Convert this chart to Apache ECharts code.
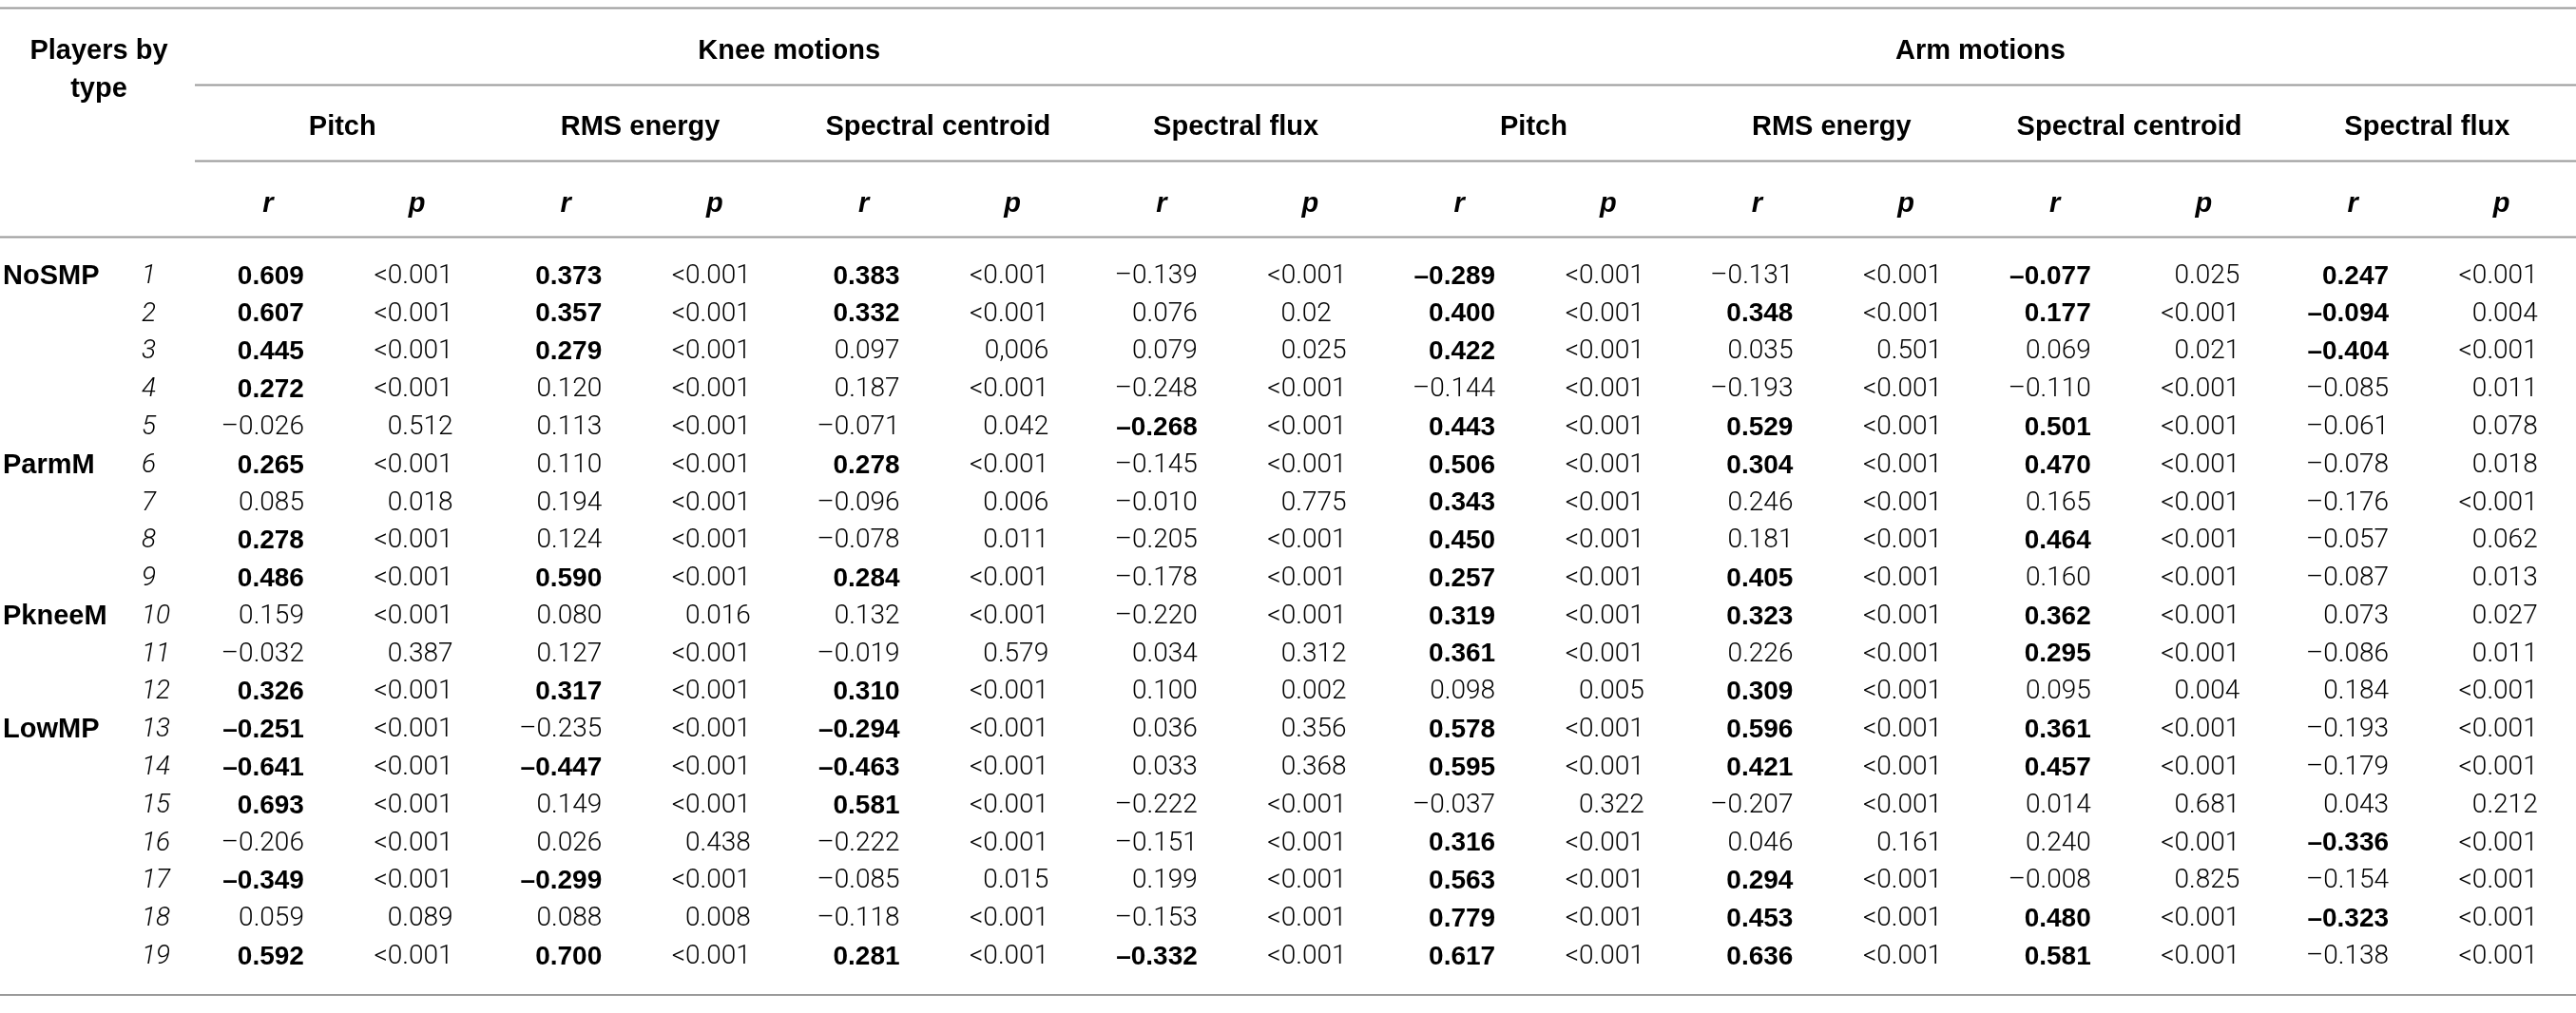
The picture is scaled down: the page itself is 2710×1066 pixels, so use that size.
<!DOCTYPE html>
<html>
<head>
<meta charset="utf-8">
<script src="https://cdn.jsdelivr.net/npm/echarts@6/dist/echarts.min.js"></script>
<style>
html,body{margin:0;padding:0;background:#fff;}
#chart{width:2710px;height:1066px;}
</style>
</head>
<body>
<div id="chart"></div>
<script>
// ---------- DATA ----------
const rowNums = ['1','2','3','4','5','6','7','8','9','10','11','12','13','14','15','16','17','18','19'];
const groupLabels = ['NoSMP','','','','','ParmM','','','','PkneeM','','','LowMP','','','','','',''];
const motions = ['Knee motions', 'Arm motions'];
const features = ['Pitch', 'RMS energy', 'Spectral centroid', 'Spectral flux'];
const statLabels = ['r', 'p'];
const headerCorner = 'Players by\ntype';

const kneePitchR = [0.609,0.607,0.445,0.272,-0.026,0.265,0.085,0.278,0.486,0.159,-0.032,0.326,-0.251,-0.641,0.693,-0.206,-0.349,0.059,0.592];
const kneePitchB = [1,1,1,1,0,1,0,1,1,0,0,1,1,1,1,0,1,0,1];
const kneePitchP = ['<0.001','<0.001','<0.001','<0.001','0.512','<0.001','0.018','<0.001','<0.001','<0.001','0.387','<0.001','<0.001','<0.001','<0.001','<0.001','<0.001','0.089','<0.001'];

const kneeRmsR = [0.373,0.357,0.279,0.120,0.113,0.110,0.194,0.124,0.590,0.080,0.127,0.317,-0.235,-0.447,0.149,0.026,-0.299,0.088,0.700];
const kneeRmsB = [1,1,1,0,0,0,0,0,1,0,0,1,0,1,0,0,1,0,1];
const kneeRmsP = ['<0.001','<0.001','<0.001','<0.001','<0.001','<0.001','<0.001','<0.001','<0.001','0.016','<0.001','<0.001','<0.001','<0.001','<0.001','0.438','<0.001','0.008','<0.001'];

const kneeCentR = [0.383,0.332,0.097,0.187,-0.071,0.278,-0.096,-0.078,0.284,0.132,-0.019,0.310,-0.294,-0.463,0.581,-0.222,-0.085,-0.118,0.281];
const kneeCentB = [1,1,0,0,0,1,0,0,1,0,0,1,1,1,1,0,0,0,1];
const kneeCentP = ['<0.001','<0.001','0,006','<0.001','0.042','<0.001','0.006','0.011','<0.001','<0.001','0.579','<0.001','<0.001','<0.001','<0.001','<0.001','0.015','<0.001','<0.001'];

const kneeFluxR = [-0.139,0.076,0.079,-0.248,-0.268,-0.145,-0.010,-0.205,-0.178,-0.220,0.034,0.100,0.036,0.033,-0.222,-0.151,0.199,-0.153,-0.332];
const kneeFluxB = [0,0,0,0,1,0,0,0,0,0,0,0,0,0,0,0,0,0,1];
const kneeFluxP = ['<0.001','0.02','0.025','<0.001','<0.001','<0.001','0.775','<0.001','<0.001','<0.001','0.312','0.002','0.356','0.368','<0.001','<0.001','<0.001','<0.001','<0.001'];

const armPitchR = [-0.289,0.400,0.422,-0.144,0.443,0.506,0.343,0.450,0.257,0.319,0.361,0.098,0.578,0.595,-0.037,0.316,0.563,0.779,0.617];
const armPitchB = [1,1,1,0,1,1,1,1,1,1,1,0,1,1,0,1,1,1,1];
const armPitchP = ['<0.001','<0.001','<0.001','<0.001','<0.001','<0.001','<0.001','<0.001','<0.001','<0.001','<0.001','0.005','<0.001','<0.001','0.322','<0.001','<0.001','<0.001','<0.001'];

const armRmsR = [-0.131,0.348,0.035,-0.193,0.529,0.304,0.246,0.181,0.405,0.323,0.226,0.309,0.596,0.421,-0.207,0.046,0.294,0.453,0.636];
const armRmsB = [0,1,0,0,1,1,0,0,1,1,0,1,1,1,0,0,1,1,1];
const armRmsP = ['<0.001','<0.001','0.501','<0.001','<0.001','<0.001','<0.001','<0.001','<0.001','<0.001','<0.001','<0.001','<0.001','<0.001','<0.001','0.161','<0.001','<0.001','<0.001'];

const armCentR = [-0.077,0.177,0.069,-0.110,0.501,0.470,0.165,0.464,0.160,0.362,0.295,0.095,0.361,0.457,0.014,0.240,-0.008,0.480,0.581];
const armCentB = [1,1,0,0,1,1,0,1,0,1,1,0,1,1,0,0,0,1,1];
const armCentP = ['0.025','<0.001','0.021','<0.001','<0.001','<0.001','<0.001','<0.001','<0.001','<0.001','<0.001','0.004','<0.001','<0.001','0.681','<0.001','0.825','<0.001','<0.001'];

const armFluxR = [0.247,-0.094,-0.404,-0.085,-0.061,-0.078,-0.176,-0.057,-0.087,0.073,-0.086,0.184,-0.193,-0.179,0.043,-0.336,-0.154,-0.323,-0.138];
const armFluxB = [1,1,1,0,0,0,0,0,0,0,0,0,0,0,0,1,0,1,0];
const armFluxP = ['<0.001','0.004','<0.001','0.011','0.078','0.018','<0.001','0.062','0.013','0.027','0.011','<0.001','<0.001','<0.001','0.212','<0.001','<0.001','<0.001','<0.001'];

// ---------- BUILD ----------
const blocks = [
  [kneePitchR, kneePitchB, kneePitchP],
  [kneeRmsR, kneeRmsB, kneeRmsP],
  [kneeCentR, kneeCentB, kneeCentP],
  [kneeFluxR, kneeFluxB, kneeFluxP],
  [armPitchR, armPitchB, armPitchP],
  [armRmsR, armRmsB, armRmsP],
  [armCentR, armCentB, armCentP],
  [armFluxR, armFluxB, armFluxP]
];
const featureKeys = [];
const columnKeys = [];
motions.forEach(m => features.forEach(f => {
  featureKeys.push(m + '|' + f);
  statLabels.forEach(s => columnKeys.push(m + '|' + f + '|' + s));
}));

function fmtR(v) {
  return (v < 0 ? '\u2013' : '') + Math.abs(v).toFixed(3);
}

const cells = [];
blocks.forEach((blk, b) => {
  const [rs, bs, ps] = blk;
  rowNums.forEach((rn, i) => {
    cells.push({ col: 2 * b, row: i, text: fmtR(rs[i]), bold: !!bs[i], isP: false });
    cells.push({ col: 2 * b + 1, row: i, text: ps[i], bold: false, isP: true });
  });
});

// ---------- STYLE / LAYOUT ----------
const FS = 28;
const HFS = 29;
const LIGHT = 'Roboto';
const BOLDF = 'Liberation Sans';
const INK = '#000';
const RULE = '#9a9a9a';
const G = { left: 202.6, top: 271, width: 2510, height: 755.8 };
const RIGHT_PAD = 38;
const DIGIT_W = 15.6;

const chart = echarts.init(document.getElementById('chart'), null, { renderer: 'canvas' });

const hdrLabel = {
  color: INK, fontSize: HFS, fontFamily: BOLDF, fontWeight: 'bold', interval: 0, margin: 42
};

const option = {
  animation: false,
  backgroundColor: '#fff',
  grid: { left: G.left, top: G.top, width: G.width, height: G.height, containLabel: false },
  xAxis: [
    {
      type: 'category', position: 'top', data: columnKeys,
      axisLine: { show: false }, axisTick: { show: false }, splitLine: { show: false },
      axisLabel: Object.assign({}, hdrLabel, { fontStyle: 'italic', formatter: (v, i) => statLabels[i % 2] })
    },
    {
      type: 'category', position: 'top', offset: 81, data: featureKeys,
      axisLine: { show: false }, axisTick: { show: false }, splitLine: { show: false },
      axisLabel: Object.assign({}, hdrLabel, { formatter: (v) => v.split('|')[1] })
    },
    {
      type: 'category', position: 'top', offset: 161, data: motions,
      axisLine: { show: false }, axisTick: { show: false }, splitLine: { show: false },
      axisLabel: Object.assign({}, hdrLabel)
    }
  ],
  yAxis: [
    {
      type: 'category', position: 'left', inverse: true, data: rowNums,
      axisLine: { show: false }, axisTick: { show: false }, splitLine: { show: false },
      axisLabel: { align: 'left', margin: G.left - 148, interval: 0, color: INK,
        fontSize: FS, fontFamily: LIGHT, fontWeight: 300, fontStyle: 'italic' }
    },
    {
      type: 'category', position: 'left', inverse: true, data: rowNums,
      axisLine: { show: false }, axisTick: { show: false }, splitLine: { show: false },
      axisLabel: { align: 'left', margin: G.left - 2, interval: 0, color: INK,
        fontSize: HFS, fontFamily: BOLDF, fontWeight: 'bold',
        formatter: (v, i) => groupLabels[i] }
    }
  ],
  series: [{
    type: 'custom',
    silent: true,
    xAxisIndex: 0, yAxisIndex: 0,
    data: cells.map(c => [c.col, c.row]),
    encode: { x: 0, y: 1 },
    renderItem: function (params, api) {
      const c = cells[params.dataIndex];
      const pt = api.coord([api.value(0), api.value(1)]);
      let pad = 0;
      if (c.isP) {
        const k = c.text.search(/[.,]/);
        if (k >= 0) pad = (3 - (c.text.length - k - 1)) * DIGIT_W;
      }
      return {
        type: 'text',
        x: pt[0] + RIGHT_PAD - pad,
        y: pt[1],
        style: {
          text: c.text,
          align: 'right',
          verticalAlign: 'middle',
          fill: INK,
          fontSize: FS,
          fontFamily: c.bold ? BOLDF : LIGHT,
          fontWeight: c.bold ? 'bold' : 300
        }
      };
    }
  }],
  graphic: [
    { type: 'line', shape: { x1: 0, y1: 8.5, x2: 2710, y2: 8.5 }, style: { stroke: RULE, lineWidth: 2 } },
    { type: 'line', shape: { x1: 205, y1: 89.5, x2: 2710, y2: 89.5 }, style: { stroke: RULE, lineWidth: 2 } },
    { type: 'line', shape: { x1: 205, y1: 169.5, x2: 2710, y2: 169.5 }, style: { stroke: RULE, lineWidth: 2 } },
    { type: 'line', shape: { x1: 0, y1: 249.5, x2: 2710, y2: 249.5 }, style: { stroke: RULE, lineWidth: 2 } },
    { type: 'line', shape: { x1: 0, y1: 1047, x2: 2710, y2: 1047 }, style: { stroke: RULE, lineWidth: 2 } },
    { type: 'text', x: 104, y: 34, style: { text: headerCorner, align: 'center', verticalAlign: 'top',
      lineHeight: 40, fill: INK, fontSize: HFS, fontFamily: BOLDF, fontWeight: 'bold' } }
  ]
};
chart.setOption(option);
</script>
</body>
</html>
